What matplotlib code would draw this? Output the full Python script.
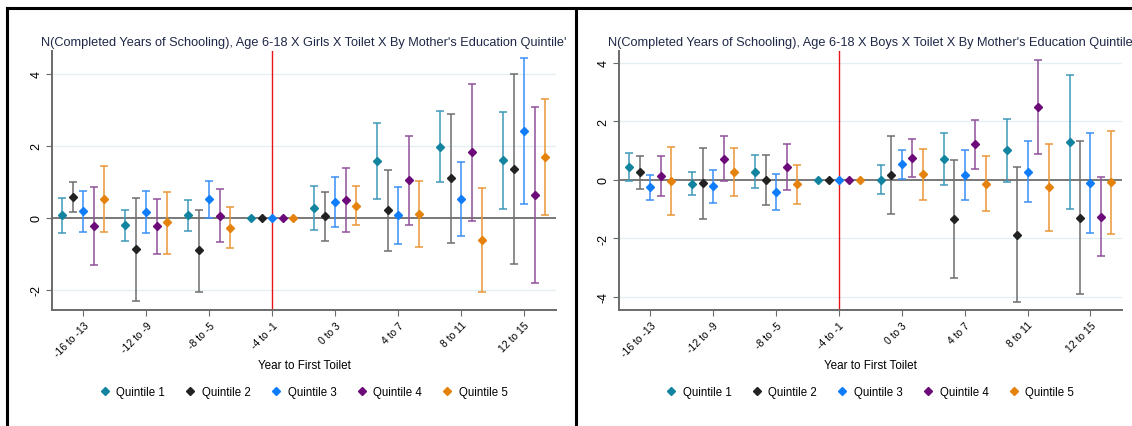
import numpy as np
import matplotlib
matplotlib.use('Agg')
import matplotlib.pyplot as plt
from matplotlib.lines import Line2D

plt.rcParams['font.family'] = ['Liberation Sans', 'DejaVu Sans']

groups = ['-16 to -13', '-12 to -9', '-8 to -5', '-4 to -1', '0 to 3', '4 to 7', '8 to 11', '12 to 15']
quintiles = ['Quintile 1', 'Quintile 2', 'Quintile 3', 'Quintile 4', 'Quintile 5']
colors = ['#13849f', '#222222', '#0f7dfa', '#6b0a78', '#e5820c']
bar_colors = ['#3d98b8', '#6e6e6e', '#3a8ff5', '#91519b', '#eb9637']

nan = np.nan
# rows = quintile 1..5, columns = groups; "-4 to -1" is the omitted category
girls_est = [
    [0.07, -0.20, 0.07, 0, 0.27, 1.58, 1.98, 1.61],
    [0.57, -0.87, -0.90, 0, 0.04, 0.21, 1.10, 1.36],
    [0.19, 0.17, 0.53, 0, 0.44, 0.07, 0.53, 2.41],
    [-0.22, -0.23, 0.06, 0, 0.50, 1.04, 1.82, 0.63],
    [0.53, -0.12, -0.27, 0, 0.34, 0.10, -0.62, 1.69],
]
girls_lo = [
    [-0.42, -0.63, -0.37, nan, -0.35, 0.52, 0.99, 0.25],
    [0.15, -2.31, -2.05, nan, -0.64, -0.91, -0.69, -1.28],
    [-0.40, -0.42, 0.01, nan, -0.25, -0.73, -0.49, 0.38],
    [-1.31, -0.99, -0.68, nan, -0.39, -0.21, -0.09, -1.81],
    [-0.39, -0.99, -0.83, nan, -0.20, -0.81, -2.07, 0.07],
]
girls_hi = [
    [0.54, 0.23, 0.50, nan, 0.88, 2.64, 2.96, 2.95],
    [1.00, 0.56, 0.23, nan, 0.71, 1.33, 2.89, 4.00],
    [0.76, 0.74, 1.03, nan, 1.15, 0.85, 1.55, 4.45],
    [0.86, 0.53, 0.79, nan, 1.39, 2.29, 3.73, 3.08],
    [1.44, 0.73, 0.30, nan, 0.88, 1.02, 0.82, 3.31],
]

boys_est = [
    [0.42, -0.14, 0.28, 0, 0.00, 0.71, 1.00, 1.29],
    [0.26, -0.11, 0.00, 0, 0.17, -1.34, -1.88, -1.30],
    [-0.25, -0.23, -0.41, 0, 0.53, 0.16, 0.28, -0.11],
    [0.13, 0.70, 0.44, 0, 0.74, 1.21, 2.49, -1.26],
    [-0.05, 0.26, -0.16, 0, 0.18, -0.13, -0.26, -0.07],
]
boys_lo = [
    [-0.05, -0.51, -0.28, nan, -0.50, -0.19, -0.07, -1.00],
    [-0.31, -1.34, -0.88, nan, -1.18, -3.37, -4.19, -3.92],
    [-0.68, -0.78, -1.02, nan, 0.03, -0.69, -0.76, -1.83],
    [-0.57, -0.06, -0.35, nan, 0.08, 0.38, 0.89, -2.62],
    [-1.22, -0.57, -0.82, nan, -0.68, -1.07, -1.75, -1.84],
]
boys_hi = [
    [0.91, 0.25, 0.83, nan, 0.51, 1.60, 2.07, 3.57],
    [0.81, 1.10, 0.85, nan, 1.50, 0.68, 0.42, 1.32],
    [0.17, 0.33, 0.19, nan, 1.01, 1.02, 1.32, 1.59],
    [0.82, 1.49, 1.22, nan, 1.39, 2.03, 4.10, 0.09],
    [1.11, 1.08, 0.51, nan, 1.04, 0.81, 1.23, 1.68],
]


def draw_panel(ax, est, lo, hi, title, yticks, ylim):
    x = np.arange(len(groups))
    for yt in yticks:
        if yt != 0:
            ax.axhline(yt, color='#e3eef0', lw=0.9, zorder=0)
    ax.axhline(0, color='#6d6d6d', lw=1.3, zorder=1)
    ax.axvline(3, color='#e8141c', lw=1.0, zorder=1)

    for i in range(len(quintiles)):
        xs = x + (i - 2) / 6
        e = np.array(est[i], dtype=float)
        l = np.array(lo[i], dtype=float)
        h = np.array(hi[i], dtype=float)
        ax.errorbar(xs, e, yerr=[e - l, h - e], fmt='none', ecolor=bar_colors[i],
                    elinewidth=1.1, capsize=2.6, capthick=1.1, zorder=2)
        ax.plot(xs, e, 'D', color=colors[i], ms=4.3, zorder=3, label=quintiles[i])

    ax.set_xlim(-0.5, 7.5)
    ax.set_ylim(*ylim)
    ax.set_yticks(yticks)
    ax.set_yticklabels([str(v) for v in yticks])
    ax.set_xticks(x)
    ax.set_xticklabels(groups, rotation=45, ha='right', rotation_mode='anchor')
    ax.tick_params(axis='y', labelrotation=90, labelsize=9, length=4, color='#6a6a6a', pad=3)
    ax.tick_params(axis='x', labelsize=7.5, length=4, color='#6a6a6a', pad=3)
    for lab in ax.get_yticklabels():
        lab.set_va('center')
    for s in ['top', 'right']:
        ax.spines[s].set_visible(False)
    for s in ['left', 'bottom']:
        ax.spines[s].set_color('#6a6a6a')
        ax.spines[s].set_linewidth(1.4)

    ax.set_title(title, fontsize=9.15, color='#1e2747', pad=4)
    ax.set_xlabel('Year to First Toilet', fontsize=8.4)
    ax.xaxis.set_label_coords(0.5, -0.19)
    ax.xaxis.label.set_va('top')
    ax.legend(loc='center', bbox_to_anchor=(0.5, -0.317), ncol=5, frameon=False,
              fontsize=8.3, handlelength=0.8, handletextpad=0.6, columnspacing=1.8,
              markerscale=0.9)


fig = plt.figure(figsize=(11.32, 4.27), dpi=100)
ax1 = fig.add_axes([0.0459, 0.2717, 0.4452, 0.6066])
ax2 = fig.add_axes([0.5468, 0.2717, 0.4443, 0.6066])

draw_panel(ax1, girls_est, girls_lo, girls_hi,
           "N(Completed Years of Schooling), Age 6-18 X Girls X Toilet X By Mother's Education Quintile'",
           [-2, 0, 2, 4], (-2.56, 4.64))
draw_panel(ax2, boys_est, boys_lo, boys_hi,
           "N(Completed Years of Schooling), Age 6-18 X Boys X Toilet X By Mother's Education Quintile",
           [-4, -2, 0, 2, 4], (-4.45, 4.4))

# black frame lines around the two panels
fig.add_artist(Line2D([0.0062, 1.0], [0.979, 0.979], color='black', lw=2.2, transform=fig.transFigure))
fig.add_artist(Line2D([0.0062, 0.0062], [0.0, 0.979], color='black', lw=2.2, transform=fig.transFigure))
fig.add_artist(Line2D([0.5088, 0.5088], [0.0, 0.979], color='black', lw=2.2, transform=fig.transFigure))

fig.savefig('out.png', dpi=100)
